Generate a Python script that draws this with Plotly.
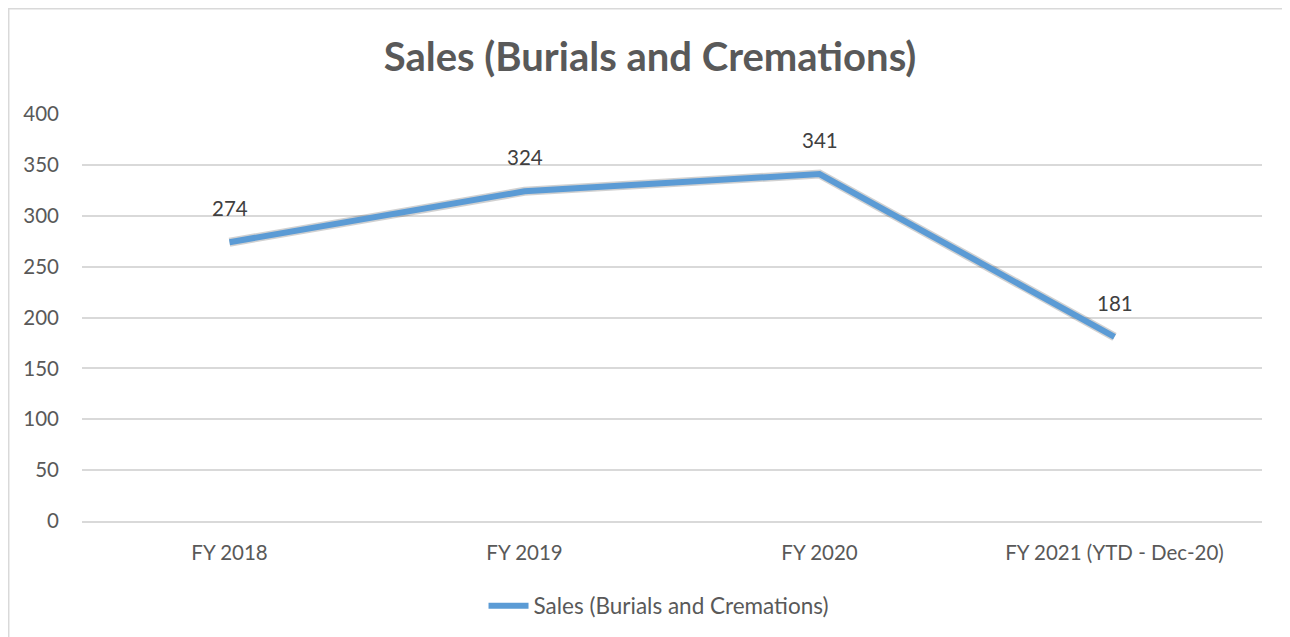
import plotly.graph_objects as go

categories = ["FY 2018", "FY 2019", "FY 2020", "FY 2021 (YTD - Dec-20)"]
sales = [274, 324, 341, 181]
series_name = "Sales (Burials and Cremations)"
y_ticks = [0, 50, 100, 150, 200, 250, 300, 350, 400]

FONT = "Lato, 'Open Sans', sans-serif"
FS = 20.5
fig = go.Figure()

# soft shadow under the line
fig.add_trace(go.Scatter(
    x=categories, y=sales, mode="lines",
    line=dict(color="rgba(0,0,0,0.18)", width=9),
    hoverinfo="skip", showlegend=False,
))
fig.add_trace(go.Scatter(
    x=categories, y=sales, mode="lines", name=series_name,
    line=dict(color="#5B9BD5", width=6),
))

for c, v in zip(categories, sales):
    fig.add_annotation(x=c, y=v, text=str(v), showarrow=False, yshift=34,
                       font=dict(family=FONT, size=FS, color="#404040"))

fig.add_shape(type="rect", xref="paper", yref="paper",
              x0=-0.0621, x1=1.2, y0=-0.5, y1=1.2586,
              line=dict(color="#D9D9D9", width=1.5), fillcolor="rgba(0,0,0,0)", layer="below")

fig.update_layout(
    width=1290, height=637,
    margin=dict(l=74, r=36, t=106, b=124),
    paper_bgcolor="white", plot_bgcolor="white",
    title=dict(text="<b>Sales (Burials and Cremations)</b>", x=0.4977, xanchor="center",
               y=0.923, yanchor="middle",
               font=dict(family=FONT, size=40, color="#595959")),
    font=dict(family=FONT, size=FS, color="#595959"),
    xaxis=dict(type="category", range=[-0.5, 3.5], showgrid=False, showline=True,
               linecolor="#D9D9D9", linewidth=1.5, ticks="", ticklabelstandoff=13,
               tickfont=dict(family=FONT, size=FS, color="#595959")),
    yaxis=dict(range=[0, 400], tickvals=y_ticks, showgrid=True, gridcolor="#D9D9D9",
               gridwidth=1.5, zeroline=False, ticks="", ticklabelstandoff=22,
               tickfont=dict(family=FONT, size=FS, color="#595959")),
    legend=dict(orientation="h", x=0.489, xanchor="center", y=-0.209, yanchor="middle",
                font=dict(family=FONT, size=22.5, color="#595959"), itemwidth=40),
    showlegend=True,
)

fig.write_html("out.html")
